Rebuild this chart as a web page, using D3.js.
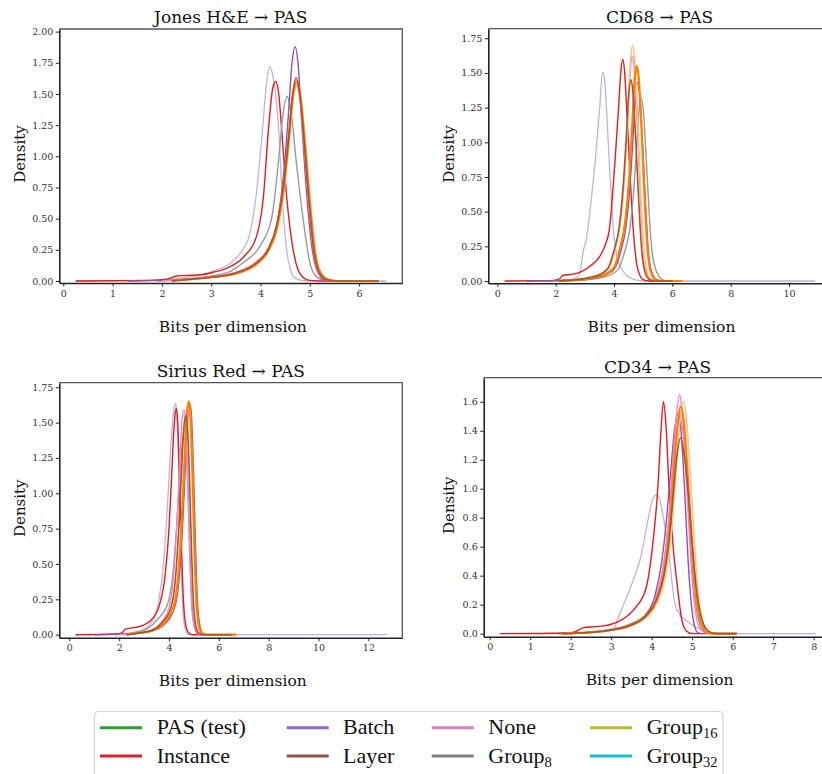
<!DOCTYPE html>
<html>
<head>
<meta charset="utf-8">
<style>
  body { margin: 0; background: #fff; }
  svg { display: block; }
  .tick text { font-family: 'DejaVu Serif', serif; font-size: 9.5px; fill: #333; }
  .tick line, .domain { stroke: #222; }
  .serif { font-family: 'DejaVu Serif', serif; fill: #111; }
  .legtext { font-family: 'Liberation Serif', serif; font-size: 22px; fill: #111; }
</style>
</head>
<body>
<div id="chart"></div>
<script src="https://d3js.org/d3.v7.min.js"></script>
<script>
// series order / names
var seriesNames = ["PAS (test)", "Instance", "Group8", "Batch", "None", "Group32", "Group16", "Layer"];

// ---- Jones H&E -> PAS ----
var jones_pas = [[0.25,0],[1.5,0.003],[2.0,0.01],[2.5,0.03],[3.04,0.08],[3.38,0.14],[3.6,0.23],[3.77,0.36],[3.91,0.68],[4.04,1.21],[4.12,1.58],[4.19,1.72],[4.27,1.6],[4.37,1.21],[4.44,0.68],[4.52,0.28],[4.6,0.1],[4.7,0.025],[4.85,0.004],[5.2,0],[6.55,0]];
var jones_instance = [[0.25,0],[1.8,0.005],[2.1,0.015],[2.3,0.04],[2.8,0.05],[3.04,0.07],[3.3,0.1],[3.65,0.19],[3.92,0.36],[4.06,0.68],[4.16,1.21],[4.25,1.55],[4.31,1.6],[4.37,1.5],[4.43,1.21],[4.53,0.68],[4.65,0.28],[4.76,0.09],[4.86,0.03],[5.0,0.005],[5.3,0],[6.4,0]];
var jones_group8 = [[1.9,0],[2.5,0.015],[3.0,0.04],[3.4,0.08],[3.66,0.15],[3.99,0.28],[4.23,0.51],[4.36,0.94],[4.46,1.35],[4.54,1.48],[4.62,1.35],[4.73,0.94],[4.86,0.51],[5.0,0.15],[5.1,0.05],[5.25,0.01],[5.5,0],[6.4,0]];
var jones_batch = [[1.3,0],[2.0,0.005],[2.5,0.015],[3.0,0.03],[3.5,0.06],[3.9,0.13],[4.15,0.24],[4.33,0.45],[4.48,0.9],[4.56,1.3],[4.64,1.75],[4.7,1.88],[4.76,1.75],[4.84,1.25],[4.94,0.68],[5.04,0.28],[5.15,0.08],[5.3,0.01],[5.5,0],[6.4,0]];
var jones_none = [[2.0,0],[2.5,0.015],[3.0,0.035],[3.5,0.07],[3.9,0.15],[4.15,0.26],[4.33,0.45],[4.47,0.8],[4.58,1.2],[4.66,1.5],[4.73,1.57],[4.8,1.45],[4.88,1.1],[4.98,0.6],[5.08,0.22],[5.2,0.05],[5.35,0.01],[5.6,0],[6.4,0]];
var jones_group32 = [[2.2,0],[2.6,0.015],[3.0,0.03],[3.5,0.06],[3.9,0.13],[4.15,0.23],[4.33,0.4],[4.47,0.7],[4.58,1.1],[4.67,1.47],[4.75,1.58],[4.82,1.48],[4.92,1.08],[5.02,0.6],[5.12,0.23],[5.24,0.06],[5.4,0.01],[5.6,0],[6.4,0]];
var jones_group16 = [[2.2,0],[2.6,0.015],[3.0,0.03],[3.5,0.06],[3.9,0.13],[4.15,0.24],[4.33,0.42],[4.46,0.72],[4.57,1.12],[4.66,1.5],[4.73,1.6],[4.8,1.5],[4.9,1.1],[5.0,0.62],[5.1,0.24],[5.22,0.06],[5.38,0.01],[5.6,0],[6.4,0]];
var jones_layer = [[2.2,0],[2.6,0.015],[3.0,0.03],[3.5,0.065],[3.9,0.14],[4.15,0.25],[4.33,0.45],[4.46,0.75],[4.57,1.15],[4.66,1.52],[4.72,1.63],[4.79,1.52],[4.88,1.15],[4.98,0.65],[5.08,0.25],[5.2,0.06],[5.35,0.01],[5.6,0],[6.4,0]];

// ---- CD68 -> PAS ----
var cd68_pas = [[1.0,0],[2.0,0.003],[2.5,0.01],[2.75,0.03],[2.85,0.08],[2.95,0.22],[3.05,0.3],[3.2,0.55],[3.35,0.85],[3.5,1.22],[3.61,1.505],[3.68,1.45],[3.75,1.22],[3.84,0.85],[3.98,0.37],[4.15,0.14],[4.44,0.04],[4.7,0.01],[5.0,0],[10.9,0]];
var cd68_instance = [[0.25,0],[1.8,0.003],[2.1,0.012],[2.25,0.04],[2.6,0.05],[2.9,0.07],[3.2,0.11],[3.52,0.18],[3.7,0.26],[3.84,0.37],[4.03,0.85],[4.15,1.22],[4.24,1.52],[4.3,1.6],[4.36,1.52],[4.44,1.22],[4.53,0.85],[4.66,0.37],[4.78,0.12],[4.89,0.04],[5.0,0.01],[5.2,0],[6.3,0]];
var cd68_group8 = [[1.5,0],[2.53,0.005],[3.13,0.011],[3.73,0.033],[4.13,0.08],[4.35,0.2],[4.53,0.36],[4.66,0.61],[4.77,0.94],[4.86,1.24],[4.93,1.32],[5.0,1.24],[5.1,0.91],[5.2,0.51],[5.3,0.22],[5.45,0.07],[5.62,0.015],[5.8,0],[6.0,0]];
var cd68_batch = [[1.0,0],[2.4,0.005],[3.01,0.011],[3.61,0.036],[4.01,0.086],[4.23,0.21],[4.41,0.39],[4.54,0.66],[4.65,1.02],[4.74,1.34],[4.81,1.43],[4.88,1.34],[4.98,0.99],[5.08,0.56],[5.18,0.21],[5.3,0.06],[5.46,0.01],[5.66,0],[6.0,0]];
var cd68_none = [[2.23,0],[2.83,0.013],[3.43,0.04],[3.83,0.1],[4.05,0.24],[4.23,0.44],[4.36,0.75],[4.47,1.15],[4.56,1.52],[4.63,1.62],[4.7,1.52],[4.8,1.12],[4.9,0.63],[5.0,0.24],[5.12,0.06],[5.28,0.01],[5.48,0],[6.0,0]];
var cd68_group32 = [[2.24,0],[2.84,0.014],[3.44,0.043],[3.84,0.1],[4.06,0.26],[4.24,0.46],[4.37,0.78],[4.48,1.21],[4.57,1.6],[4.64,1.7],[4.71,1.6],[4.81,1.17],[4.91,0.66],[5.01,0.26],[5.13,0.07],[5.29,0.01],[5.49,0],[6.3,0]];
var cd68_group16 = [[2.1,0],[2.98,0.012],[3.58,0.039],[3.98,0.09],[4.2,0.23],[4.38,0.42],[4.51,0.71],[4.62,1.1],[4.71,1.46],[4.78,1.55],[4.85,1.46],[4.95,1.07],[5.05,0.6],[5.15,0.23],[5.27,0.06],[5.43,0.01],[5.63,0],[6.35,0]];
var cd68_layer = [[2.1,0],[2.78,0.012],[3.38,0.036],[3.78,0.087],[4.0,0.22],[4.18,0.39],[4.31,0.67],[4.42,1.03],[4.51,1.36],[4.58,1.45],[4.65,1.36],[4.75,1.0],[4.85,0.57],[4.95,0.22],[5.07,0.06],[5.23,0.01],[5.43,0],[6.0,0]];

// ---- Sirius Red -> PAS ----
var sirius_pas = [[1.0,0],[2.0,0.005],[2.5,0.015],[3.0,0.04],[3.4,0.12],[3.6,0.25],[3.8,0.55],[3.95,0.95],[4.08,1.35],[4.2,1.6],[4.27,1.636],[4.33,1.5],[4.4,1.1],[4.47,0.6],[4.55,0.2],[4.65,0.04],[4.8,0],[12.75,0]];
var sirius_instance = [[0.25,0],[1.9,0.005],[2.1,0.012],[2.25,0.04],[2.6,0.05],[3.0,0.07],[3.37,0.12],[3.6,0.2],[3.85,0.43],[4.0,0.75],[4.1,1.1],[4.18,1.4],[4.25,1.57],[4.3,1.6],[4.35,1.5],[4.42,1.1],[4.5,0.62],[4.58,0.24],[4.68,0.06],[4.8,0.01],[4.95,0],[6.7,0]];
var sirius_group8 = [[1.8,0],[2.5,0.01],[3.0,0.03],[3.5,0.1],[3.95,0.22],[4.15,0.42],[4.3,0.75],[4.43,1.1],[4.54,1.38],[4.62,1.45],[4.68,1.38],[4.76,1.04],[4.84,0.58],[4.92,0.22],[5.02,0.06],[5.14,0.01],[5.3,0],[6.5,0]];
var sirius_batch = [[1.0,0],[2.0,0.004],[2.8,0.01],[3.3,0.025],[3.8,0.07],[4.24,0.2],[4.42,0.42],[4.56,0.82],[4.67,1.24],[4.76,1.55],[4.84,1.63],[4.9,1.55],[4.98,1.17],[5.06,0.65],[5.14,0.24],[5.24,0.065],[5.36,0.01],[5.54,0],[6.5,0]];
var sirius_none = [[2.0,0],[2.8,0.012],[3.3,0.03],[3.7,0.09],[4.0,0.19],[4.18,0.41],[4.32,0.8],[4.43,1.21],[4.52,1.51],[4.6,1.59],[4.66,1.51],[4.74,1.14],[4.82,0.64],[4.9,0.24],[5.0,0.064],[5.12,0.01],[5.3,0],[6.5,0]];
var sirius_group32 = [[2.3,0],[2.8,0.012],[3.3,0.03],[3.8,0.08],[4.18,0.2],[4.36,0.42],[4.5,0.8],[4.61,1.2],[4.7,1.52],[4.78,1.6],[4.84,1.52],[4.92,1.15],[5.0,0.64],[5.08,0.24],[5.18,0.064],[5.3,0.01],[5.48,0],[6.7,0]];
var sirius_group16 = [[2.3,0],[2.8,0.012],[3.3,0.03],[3.8,0.08],[4.2,0.2],[4.38,0.43],[4.52,0.83],[4.63,1.25],[4.72,1.57],[4.8,1.65],[4.86,1.57],[4.94,1.19],[5.02,0.66],[5.1,0.25],[5.2,0.066],[5.32,0.01],[5.5,0],[6.7,0]];
var sirius_layer = [[2.3,0],[2.8,0.012],[3.3,0.03],[3.7,0.08],[4.08,0.19],[4.26,0.4],[4.4,0.78],[4.51,1.18],[4.6,1.47],[4.68,1.55],[4.74,1.47],[4.82,1.12],[4.9,0.62],[4.98,0.23],[5.08,0.06],[5.2,0.01],[5.38,0],[6.5,0]];

// ---- CD34 -> PAS ----
var cd34_pas = [[1.8,0],[2.5,0.005],[2.9,0.015],[3.05,0.03],[3.2,0.13],[3.45,0.3],[3.74,0.54],[3.92,0.8],[4.03,0.93],[4.11,0.957],[4.2,0.92],[4.32,0.75],[4.43,0.54],[4.57,0.21],[4.7,0.13],[4.85,0.09],[5.13,0.04],[5.4,0.01],[5.7,0],[8.05,0]];
var cd34_instance = [[0.25,0],[1.9,0.005],[2.1,0.012],[2.3,0.04],[2.7,0.05],[3.0,0.065],[3.32,0.106],[3.6,0.18],[3.86,0.313],[4.02,0.6],[4.15,1.0],[4.23,1.4],[4.29,1.6],[4.35,1.45],[4.43,1.0],[4.53,0.6],[4.64,0.313],[4.74,0.1],[4.85,0.02],[5.0,0],[5.3,0]];
var cd34_group8 = [[1.8,0],[2.5,0.01],[3.0,0.03],[3.5,0.07],[3.85,0.13],[4.1,0.24],[4.28,0.45],[4.4,0.72],[4.5,1.05],[4.6,1.38],[4.7,1.48],[4.78,1.38],[4.88,0.98],[4.98,0.55],[5.08,0.22],[5.2,0.06],[5.35,0.01],[5.5,0],[6.1,0]];
var cd34_batch = [[1.9,0],[2.5,0.01],[3.0,0.025],[3.5,0.065],[3.85,0.13],[4.08,0.26],[4.25,0.5],[4.37,0.8],[4.47,1.12],[4.57,1.42],[4.66,1.52],[4.73,1.38],[4.82,0.95],[4.9,0.5],[4.98,0.2],[5.06,0.05],[5.15,0.005],[5.3,0],[6.0,0]];
var cd34_none = [[2.0,0],[2.5,0.01],[3.0,0.025],[3.5,0.06],[3.85,0.12],[4.1,0.24],[4.28,0.45],[4.4,0.72],[4.5,1.1],[4.6,1.47],[4.69,1.65],[4.76,1.5],[4.86,1.05],[4.95,0.58],[5.05,0.22],[5.15,0.06],[5.3,0.01],[5.45,0],[6.0,0]];
var cd34_group32 = [[1.9,0],[2.5,0.01],[3.0,0.025],[3.5,0.055],[3.9,0.12],[4.15,0.22],[4.35,0.41],[4.48,0.68],[4.58,1.04],[4.68,1.42],[4.78,1.6],[4.86,1.48],[4.96,1.06],[5.06,0.6],[5.16,0.24],[5.28,0.06],[5.4,0.01],[5.55,0],[6.1,0]];
var cd34_group16 = [[1.8,0],[2.5,0.01],[3.0,0.025],[3.5,0.06],[3.85,0.12],[4.1,0.22],[4.3,0.41],[4.42,0.66],[4.52,1.0],[4.62,1.38],[4.72,1.566],[4.8,1.45],[4.9,1.05],[5.0,0.6],[5.1,0.25],[5.22,0.07],[5.35,0.01],[5.5,0],[6.1,0]];
var cd34_layer = [[1.7,0],[2.5,0.01],[3.0,0.025],[3.5,0.06],[3.85,0.12],[4.1,0.22],[4.3,0.4],[4.42,0.62],[4.52,0.92],[4.62,1.22],[4.71,1.35],[4.79,1.26],[4.9,0.98],[5.0,0.62],[5.1,0.32],[5.22,0.12],[5.35,0.03],[5.5,0.005],[5.7,0],[6.1,0]];

// tick values
var jonesXTicks = [0, 1, 2, 3, 4, 5, 6];
var jonesYTicks = [0, 0.25, 0.5, 0.75, 1.0, 1.25, 1.5, 1.75, 2.0];
var cd68XTicks = [0, 2, 4, 6, 8, 10];
var cd68YTicks = [0, 0.25, 0.5, 0.75, 1.0, 1.25, 1.5, 1.75];
var siriusXTicks = [0, 2, 4, 6, 8, 10, 12];
var siriusYTicks = [0, 0.25, 0.5, 0.75, 1.0, 1.25, 1.5, 1.75];
var cd34XTicks = [0, 1, 2, 3, 4, 5, 6, 7, 8];
var cd34YTicks = [0, 0.2, 0.4, 0.6, 0.8, 1.0, 1.2, 1.4, 1.6];

// legend entries (colours as in the legend)
var legendLabels = ["PAS (test)", "Instance", "Batch", "Layer", "None", "Group8", "Group16", "Group32"];

// line colours as drawn in the panels
var lineColor = {
  "PAS (test)": "#c8afd7", "Instance": "#e41a1c", "Group8": "#9a9a9a", "Batch": "#984ea3",
  "None": "#f781bf", "Group32": "#ffbf80", "Group16": "#ff7f00", "Layer": "#a65628"
};
var lineWidth = {
  "PAS (test)": 1.3, "Instance": 1.4, "Group8": 1.4, "Batch": 1.4,
  "None": 1.4, "Group32": 1.6, "Group16": 2.2, "Layer": 1.6
};
var legendColor = {
  "PAS (test)": "#2ca02c", "Instance": "#d62728", "Batch": "#9467bd", "Layer": "#8c564b",
  "None": "#e377c2", "Group8": "#7f7f7f", "Group16": "#bcbd22", "Group32": "#17becf"
};

var panels = [
  { title: "Jones H\u0026E \u2192 PAS", left: 59.3, right: 402.3, top: 29, bottom: 283,
    xd: [-0.081, 6.876], yd: [-0.016, 2.021], xt: jonesXTicks, yt: jonesYTicks, yf: ".2f",
    titleY: 23, xlabY: 331.7, ylabX: 25,
    curves: [jones_pas, jones_instance, jones_group8, jones_batch, jones_none, jones_group32, jones_group16, jones_layer] },
  { title: "CD68 \u2192 PAS", left: 488.3, right: 830.7, top: 28.7, bottom: 283.3,
    xd: [-0.309, 11.43], yd: [-0.0166, 1.819], xt: cd68XTicks, yt: cd68YTicks, yf: ".2f",
    titleY: 22.7, xlabY: 331.7, ylabX: 453.7,
    curves: [cd68_pas, cd68_instance, cd68_group8, cd68_batch, cd68_none, cd68_group32, cd68_group16, cd68_layer] },
  { title: "Sirius Red \u2192 PAS", left: 59.3, right: 402.3, top: 382.7, bottom: 637.7,
    xd: [-0.401, 13.36], yd: [-0.0212, 1.782], xt: siriusXTicks, yt: siriusYTicks, yf: ".2f",
    titleY: 377, xlabY: 686, ylabX: 25,
    curves: [sirius_pas, sirius_instance, sirius_group8, sirius_batch, sirius_none, sirius_group32, sirius_group16, sirius_layer] },
  { title: "CD34 \u2192 PAS", left: 483.7, right: 831.5, top: 377.7, bottom: 636.7,
    xd: [-0.148, 8.44], yd: [-0.021, 1.766], xt: cd34XTicks, yt: cd34YTicks, yf: ".1f",
    titleY: 372.5, xlabY: 685, ylabX: 454,
    curves: [cd34_pas, cd34_instance, cd34_group8, cd34_batch, cd34_none, cd34_group32, cd34_group16, cd34_layer] }
];

var width = 822, height = 774;
var svg = d3.select("#chart").append("svg")
  .attr("width", width).attr("height", height);

panels.forEach(function(p, pi) {
  var x = d3.scaleLinear().domain(p.xd).range([p.left, p.right]);
  var y = d3.scaleLinear().domain(p.yd).range([p.bottom, p.top]);
  var g = svg.append("g");

  var clipId = "clip" + pi;
  g.append("clipPath").attr("id", clipId).append("rect")
    .attr("x", p.left).attr("y", p.top)
    .attr("width", p.right - p.left).attr("height", p.bottom - p.top);

  var line = d3.line()
    .x(function(d) { return x(d[0]); })
    .y(function(d) { return y(d[1]); })
    .curve(d3.curveMonotoneX);

  g.append("g").attr("clip-path", "url(#" + clipId + ")")
    .selectAll("path")
    .data(p.curves)
    .enter()
    .append("path")
    .attr("d", line)
    .attr("fill", "none")
    .attr("stroke", function(d, i) { return lineColor[seriesNames[i]]; })
    .attr("stroke-width", function(d, i) { return lineWidth[seriesNames[i]]; })
    .attr("stroke-linejoin", "round");

  // top / right spines
  g.append("path")
    .attr("d", "M" + p.left + "," + p.top + "H" + p.right + "V" + p.bottom)
    .attr("fill", "none").attr("stroke", "#555").attr("stroke-width", 1.3);

  var xAxis = g.append("g")
    .attr("transform", "translate(0," + p.bottom + ")")
    .call(d3.axisBottom(x).tickValues(p.xt).tickFormat(d3.format("d"))
      .tickSize(3.5).tickSizeOuter(0).tickPadding(3.5));
  var yAxis = g.append("g")
    .attr("transform", "translate(" + p.left + ",0)")
    .call(d3.axisLeft(y).tickValues(p.yt).tickFormat(d3.format(p.yf))
      .tickSize(3.5).tickSizeOuter(0).tickPadding(2.5));
  xAxis.attr("font-family", null).attr("font-size", null);
  yAxis.attr("font-family", null).attr("font-size", null);
  xAxis.select(".domain").attr("stroke-width", 1.6);
  yAxis.select(".domain").attr("stroke-width", 1.6);

  var cx = (p.left + p.right) / 2;
  g.append("text")
    .attr("class", "serif")
    .attr("x", cx).attr("y", p.titleY)
    .attr("text-anchor", "middle")
    .style("font-size", "17px")
    .text(p.title);

  g.append("text")
    .attr("class", "serif")
    .attr("x", cx + 2).attr("y", p.xlabY)
    .attr("text-anchor", "middle")
    .style("font-size", "15.5px")
    .text("Bits per dimension");

  g.append("text")
    .attr("class", "serif")
    .attr("transform", "translate(" + p.ylabX + "," + ((p.top + p.bottom) / 2 - 2) + ") rotate(-90)")
    .attr("text-anchor", "middle")
    .style("font-size", "15px")
    .text("Density");
});

// legend
var legendCols = [[100, 156.7], [286.7, 343], [431.7, 488.3], [590, 646.7]];
var legendRows = [727.7, 756];
var legend = svg.append("g");
legend.append("rect")
  .attr("x", 94.5).attr("y", 711.5).attr("width", 628.5).attr("height", 80)
  .attr("rx", 4).attr("fill", "#fff").attr("stroke", "#d0d0d0").attr("stroke-width", 1.2);

var items = legend.selectAll("g.item")
  .data(legendLabels)
  .enter()
  .append("g")
  .attr("class", "item")
  .attr("transform", function(d, i) { return "translate(0," + legendRows[i % 2] + ")"; });

items.append("line")
  .attr("x1", function(d, i) { return legendCols[Math.floor(i / 2)][0]; })
  .attr("x2", function(d, i) { return legendCols[Math.floor(i / 2)][0] + 42; })
  .attr("stroke", function(d) { return legendColor[d]; })
  .attr("stroke-width", 3);

var lt = items.append("text")
  .attr("class", "legtext")
  .attr("x", function(d, i) { return legendCols[Math.floor(i / 2)][1]; })
  .attr("y", 6.5);
lt.each(function(d) {
  var t = d3.select(this);
  var m = d.match(/^(Group)(\d+)$/);
  if (m) {
    t.append("tspan").text(m[1]);
    t.append("tspan").attr("dy", 4).style("font-size", "14.5px").text(m[2]);
  } else {
    t.text(d);
  }
});
</script>
</body>
</html>
